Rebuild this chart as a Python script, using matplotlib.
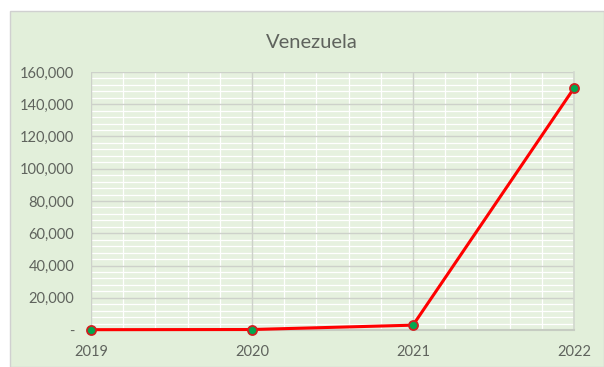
import matplotlib
matplotlib.use("Agg")
import matplotlib.pyplot as plt
from matplotlib.patches import Rectangle
from matplotlib.ticker import FixedLocator, FuncFormatter, NullFormatter

years = ["2019", "2020", "2021", "2022"]
values = [200, 300, 3000, 150000]
y_ticks = [0, 20000, 40000, 60000, 80000, 100000, 120000, 140000, 160000]

plt.rcParams['font.family'] = ['Lato', 'DejaVu Sans']

bg = "#e2efda"
text_color = "#5f635d"

fig = plt.figure(figsize=(6.04, 3.67), dpi=100)
fig.patch.set_facecolor("white")
fig.add_artist(Rectangle((10 / 604, 0), 1 - 10 / 604, (367 - 11) / 367,
                         transform=fig.transFigure, facecolor=bg,
                         edgecolor="#d0d0d0", linewidth=1, zorder=0))

pos = [91 / 604, 37 / 367, 483 / 604, 258 / 367]
x = list(range(len(years)))

# background layer: fill and white minor grid
ax_bg = fig.add_axes(pos)
ax_bg.set_facecolor("#e6f1df")
ax_bg.set_xlim(0, 3)
ax_bg.set_ylim(0, 160000)
minor_x = [i + k / 5 for i in range(3) for k in range(1, 5)]
minor_y = [j * 20000 + k * 4000 for j in range(8) for k in range(1, 5)]
ax_bg.set_xticks(minor_x)
ax_bg.set_yticks(minor_y)
ax_bg.xaxis.set_major_formatter(NullFormatter())
ax_bg.yaxis.set_major_formatter(NullFormatter())
ax_bg.tick_params(length=0)
ax_bg.grid(color="white", linewidth=0.9)
for s in ax_bg.spines.values():
    s.set_visible(False)

# main layer: major grid, line and labels
ax = fig.add_axes(pos)
ax.patch.set_visible(False)
ax.plot(x, values, color="#ff0000", linewidth=2.2, zorder=3,
        marker="o", markersize=6.5, markerfacecolor="#00a84f",
        markeredgecolor="#d02020", markeredgewidth=1.3, clip_on=False)

ax.set_xlim(0, 3)
ax.set_ylim(0, 160000)
ax.set_xticks(x)
ax.set_xticklabels(years)
ax.set_yticks(y_ticks)
ax.yaxis.set_major_formatter(FuncFormatter(lambda v, p: "-" if v == 0 else f"{int(v):,}"))

ax.grid(color="#cdd1ca", linewidth=1.0)
ax.set_axisbelow(True)

ax.tick_params(which="both", length=0)
ax.tick_params(axis="x", pad=11, labelsize=10.5, colors=text_color)
ax.tick_params(axis="y", pad=12, labelsize=10.5, colors=text_color)

for side in ["top", "left"]:
    ax.spines[side].set_visible(False)
ax.spines["right"].set_color("#d2d8ce")
ax.spines["bottom"].set_color("#c6ccc2")
ax.spines["bottom"].set_linewidth(1.5)
ax.spines["right"].set_linewidth(1.2)

fig.text(312 / 604, 1 - 42 / 367, "Venezuela", ha="center", va="center",
         fontsize=14.5, color=text_color)

fig.savefig("out.png", dpi=100, facecolor=fig.get_facecolor())
